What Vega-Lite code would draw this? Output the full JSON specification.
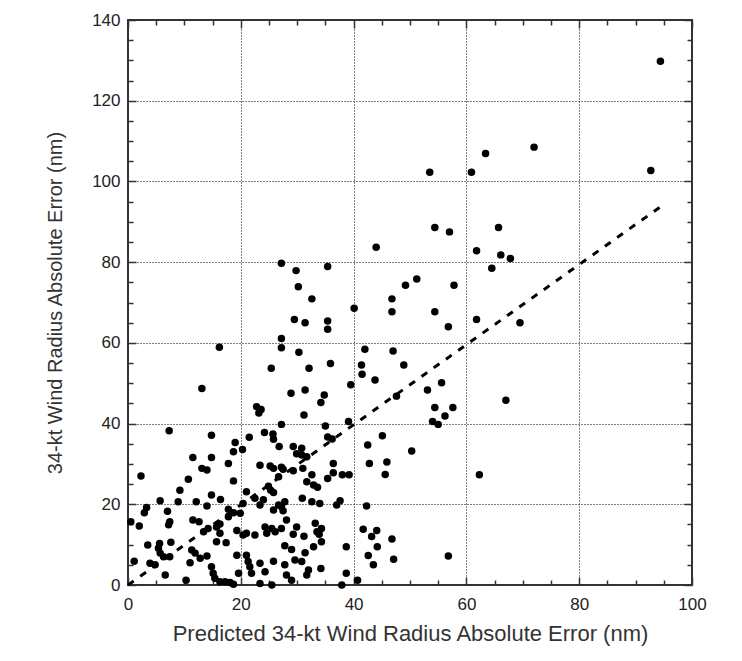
{
  "$schema": "https://vega.github.io/schema/vega-lite/v6.json",
  "width": 564,
  "height": 565,
  "autosize": "none",
  "padding": {"left": 128, "top": 20, "right": 50, "bottom": 76},
  "background": "white",
  "config": {
    "view": {"stroke": "#333", "strokeWidth": 2},
    "font": "Liberation Sans"
  },
  "datasets": {
    "pts": [
      {"x":13.1,"y":48.7},{"x":28.9,"y":47.5},{"x":22.8,"y":44.2},{"x":23.6,"y":43.5},{"x":23.2,"y":42.6},{"x":7.3,"y":38.2},{"x":27.2,"y":39.8},{"x":14.8,"y":37.1},{"x":24.2,"y":37.8},{"x":25.7,"y":37.4},{"x":25.8,"y":36.1},{"x":26.8,"y":34.3},{"x":21.5,"y":36.6},{"x":19.0,"y":35.3},{"x":18.7,"y":33.0},{"x":20.3,"y":33.6},{"x":29.3,"y":34.3},{"x":29.9,"y":32.5},{"x":11.5,"y":31.6},{"x":14.8,"y":31.6},{"x":17.8,"y":30.1},{"x":23.4,"y":29.7},{"x":25.2,"y":29.5},{"x":25.8,"y":28.9},{"x":27.2,"y":29.2},{"x":27.5,"y":28.7},{"x":13.1,"y":28.9},{"x":14.0,"y":28.5},{"x":29.3,"y":28.3},{"x":2.3,"y":27.0},{"x":26.7,"y":26.8},{"x":10.7,"y":26.2},{"x":18.7,"y":25.8},{"x":24.9,"y":24.5},{"x":25.3,"y":23.5},{"x":25.8,"y":22.9},{"x":21.0,"y":23.1},{"x":9.2,"y":23.5},{"x":14.8,"y":22.3},{"x":22.5,"y":21.5},{"x":24.0,"y":21.1},{"x":23.4,"y":19.8},{"x":16.4,"y":21.2},{"x":5.7,"y":20.9},{"x":8.9,"y":20.6},{"x":12.1,"y":20.6},{"x":14.0,"y":19.6},{"x":20.4,"y":20.2},{"x":26.7,"y":19.8},{"x":27.2,"y":19.4},{"x":27.8,"y":20.6},{"x":3.3,"y":19.2},{"x":2.9,"y":17.9},{"x":7.0,"y":18.3},{"x":17.8,"y":18.8},{"x":18.7,"y":17.9},{"x":17.8,"y":16.9},{"x":19.9,"y":17.8},{"x":25.8,"y":18.6},{"x":27.5,"y":18.4},{"x":0.5,"y":15.7},{"x":2.0,"y":14.6},{"x":7.4,"y":15.7},{"x":7.2,"y":14.9},{"x":11.5,"y":16.1},{"x":12.6,"y":15.7},{"x":13.4,"y":13.2},{"x":14.2,"y":14.0},{"x":15.7,"y":14.4},{"x":16.3,"y":15.1},{"x":16.3,"y":12.8},{"x":19.3,"y":13.5},{"x":20.4,"y":12.4},{"x":21.0,"y":12.8},{"x":22.5,"y":12.4},{"x":24.3,"y":14.4},{"x":25.5,"y":14.0},{"x":27.2,"y":14.0},{"x":29.9,"y":14.4},{"x":24.6,"y":12.8},{"x":26.1,"y":13.2},{"x":15.7,"y":10.7},{"x":17.4,"y":10.5},{"x":3.5,"y":9.9},{"x":5.6,"y":10.3},{"x":5.4,"y":9.1},{"x":7.6,"y":10.6},{"x":5.7,"y":7.9},{"x":6.3,"y":7.0},{"x":7.4,"y":7.0},{"x":11.3,"y":8.7},{"x":11.9,"y":7.9},{"x":12.8,"y":6.6},{"x":14.0,"y":7.2},{"x":11.0,"y":5.5},{"x":3.9,"y":5.4},{"x":4.8,"y":5.0},{"x":1.1,"y":5.9},{"x":6.6,"y":2.5},{"x":14.8,"y":4.5},{"x":15.1,"y":2.9},{"x":15.4,"y":1.7},{"x":16.3,"y":0.8},{"x":17.2,"y":0.8},{"x":18.1,"y":0.6},{"x":18.7,"y":0.2},{"x":10.3,"y":1.2},{"x":19.3,"y":7.4},{"x":21.0,"y":7.4},{"x":21.3,"y":5.8},{"x":19.6,"y":2.9},{"x":21.6,"y":4.5},{"x":21.9,"y":2.9},{"x":23.4,"y":5.4},{"x":24.3,"y":3.3},{"x":25.8,"y":5.9},{"x":27.8,"y":5.0},{"x":29.0,"y":1.2},{"x":29.6,"y":6.2},{"x":23.4,"y":0.4},{"x":25.5,"y":0.0},
      {"x":39.5,"y":49.6},{"x":43.8,"y":50.8},{"x":31.4,"y":48.3},{"x":34.8,"y":47.1},{"x":34.2,"y":45.2},{"x":31.2,"y":42.1},{"x":47.6,"y":46.8},{"x":53.1,"y":48.3},{"x":55.6,"y":50.1},{"x":54.4,"y":44.0},{"x":57.6,"y":44.0},{"x":56.2,"y":41.9},{"x":54.0,"y":40.5},{"x":55.0,"y":39.8},{"x":35.0,"y":39.4},{"x":39.1,"y":40.5},{"x":35.4,"y":36.7},{"x":36.2,"y":36.2},{"x":45.1,"y":37.0},{"x":42.5,"y":34.7},{"x":50.3,"y":33.2},{"x":30.8,"y":33.9},{"x":30.8,"y":32.2},{"x":31.7,"y":31.8},{"x":42.8,"y":30.1},{"x":45.9,"y":30.5},{"x":45.6,"y":27.4},{"x":36.4,"y":30.1},{"x":31.0,"y":28.9},{"x":32.6,"y":27.3},{"x":31.7,"y":25.6},{"x":32.9,"y":24.8},{"x":33.6,"y":24.2},{"x":36.4,"y":27.8},{"x":35.4,"y":26.4},{"x":38.0,"y":27.3},{"x":39.2,"y":27.3},{"x":30.9,"y":21.5},{"x":32.6,"y":20.6},{"x":34.0,"y":20.2},{"x":37.6,"y":20.9},{"x":37.0,"y":19.8},{"x":42.3,"y":19.6},{"x":28.1,"y":16.1},{"x":29.3,"y":12.6},{"x":31.2,"y":12.1},{"x":33.2,"y":15.3},{"x":33.5,"y":13.2},{"x":34.3,"y":14.0},{"x":33.9,"y":12.6},{"x":34.3,"y":10.7},{"x":32.9,"y":9.5},{"x":27.8,"y":9.7},{"x":29.0,"y":8.8},{"x":31.4,"y":8.0},{"x":30.8,"y":5.8},{"x":34.2,"y":4.1},{"x":28.1,"y":2.5},{"x":32.0,"y":3.7},{"x":31.7,"y":2.5},{"x":38.7,"y":9.5},{"x":38.7,"y":2.9},{"x":37.9,"y":0.0},{"x":40.7,"y":1.2},{"x":41.7,"y":13.8},{"x":43.2,"y":12.0},{"x":44.1,"y":13.5},{"x":46.8,"y":11.4},{"x":44.2,"y":9.5},{"x":42.6,"y":7.3},{"x":43.5,"y":5.0},{"x":47.1,"y":6.4},{"x":56.8,"y":7.2},
      {"x":27.2,"y":79.7},{"x":29.8,"y":77.9},{"x":30.2,"y":73.9},{"x":29.5,"y":65.8},{"x":27.2,"y":61.1},{"x":27.2,"y":58.8},{"x":16.2,"y":58.9},{"x":30.3,"y":57.7},{"x":25.4,"y":53.7},
      {"x":54.4,"y":88.6},{"x":57.0,"y":87.5},{"x":44.0,"y":83.7},{"x":61.8,"y":82.8},{"x":35.4,"y":78.9},{"x":32.6,"y":70.9},{"x":49.2,"y":74.3},{"x":51.2,"y":75.8},{"x":57.8,"y":74.3},{"x":46.8,"y":70.9},{"x":46.8,"y":67.7},{"x":40.1,"y":68.6},{"x":54.4,"y":67.7},{"x":56.8,"y":64.0},{"x":61.8,"y":65.8},{"x":31.4,"y":65.0},{"x":35.4,"y":65.4},{"x":35.4,"y":63.4},{"x":35.9,"y":54.9},{"x":32.1,"y":53.7},{"x":42.0,"y":58.4},{"x":47.0,"y":58.0},{"x":41.4,"y":54.5},{"x":41.5,"y":52.2},{"x":48.9,"y":54.5},
      {"x":94.4,"y":129.8},{"x":60.9,"y":102.3},{"x":63.4,"y":106.9},{"x":72.0,"y":108.5},{"x":92.7,"y":102.7},{"x":53.5,"y":102.3},
      {"x":65.7,"y":88.6},{"x":66.1,"y":81.8},{"x":67.8,"y":80.9},{"x":64.5,"y":78.5},{"x":69.5,"y":65.0},{"x":67.0,"y":45.8},{"x":62.3,"y":27.3}
    ],
    "fit": [{"x": 0, "y": 0}, {"x": 95, "y": 94.3}]
  },
  "layer": [
    {
      "data": {"name": "pts"},
      "mark": {"type": "circle", "size": 56, "color": "black", "opacity": 1},
      "encoding": {
        "x": {
          "field": "x", "type": "quantitative",
          "scale": {"domain": [0, 100], "nice": false, "zero": false},
          "axis": {
            "orient": "bottom",
            "values": [0,5,10,15,20,25,30,35,40,45,50,55,60,65,70,75,80,85,90,95,100],
            "labelExpr": "datum.value % 20 === 0 ? datum.label : ''",
            "title": "Predicted 34-kt Wind Radius Absolute Error (nm)",
            "domain": false,
            "grid": true,
            "gridDash": [1, 2],
            "gridColor": "#000",
            "gridWidth": 1,
            "gridOpacity": {"expr": "datum.value % 20 === 0 && datum.value > 0 && datum.value < 100 ? 1 : 0"},
            "tickColor": "#333",
            "tickWidth": 1.5,
            "tickSize": {"expr": "datum.value % 20 === 0 ? -8 : -5"},
            "labelFontSize": 17,
            "labelColor": "#222",
            "labelPadding": 19,
            "labelFlush": false,
            "titleFontSize": 22,
            "titleFontWeight": "normal",
            "titleColor": "#333",
            "titlePadding": 11
          }
        },
        "y": {
          "field": "y", "type": "quantitative",
          "scale": {"domain": [0, 140], "nice": false, "zero": false},
          "axis": {
            "orient": "left",
            "values": [0,5,10,15,20,25,30,35,40,45,50,55,60,65,70,75,80,85,90,95,100,105,110,115,120,125,130,135,140],
            "labelExpr": "datum.value % 20 === 0 ? datum.label : ''",
            "title": "34-kt Wind Radius Absolute Error (nm)",
            "domain": false,
            "grid": true,
            "gridDash": [1, 2],
            "gridColor": "#000",
            "gridWidth": 1,
            "gridOpacity": {"expr": "datum.value % 20 === 0 && datum.value > 0 && datum.value < 140 ? 1 : 0"},
            "tickColor": "#333",
            "tickWidth": 1.5,
            "tickSize": {"expr": "datum.value % 20 === 0 ? -8 : -5"},
            "labelFontSize": 17,
            "labelColor": "#222",
            "labelPadding": 16,
            "labelFlush": false,
            "titleFontSize": 20,
            "titleFontWeight": "normal",
            "titleColor": "#333",
            "titlePadding": 26
          }
        }
      }
    },
    {
      "data": {"name": "fit"},
      "mark": {"type": "line", "color": "black", "strokeWidth": 3, "strokeDash": [7, 8]},
      "encoding": {
        "x": {
          "field": "x", "type": "quantitative",
          "axis": {
            "orient": "top",
            "values": [0,5,10,15,20,25,30,35,40,45,50,55,60,65,70,75,80,85,90,95,100],
            "labels": false, "title": null, "domain": false, "grid": false,
            "tickColor": "#333", "tickWidth": 1.5,
            "tickSize": {"expr": "datum.value % 20 === 0 ? -8 : -5"}
          }
        },
        "y": {
          "field": "y", "type": "quantitative",
          "axis": {
            "orient": "right",
            "values": [0,5,10,15,20,25,30,35,40,45,50,55,60,65,70,75,80,85,90,95,100,105,110,115,120,125,130,135,140],
            "labels": false, "title": null, "domain": false, "grid": false,
            "tickColor": "#333", "tickWidth": 1.5,
            "tickSize": {"expr": "datum.value % 20 === 0 ? -8 : -5"}
          }
        }
      }
    }
  ],
  "resolve": {"axis": {"x": "independent", "y": "independent"}}
}
